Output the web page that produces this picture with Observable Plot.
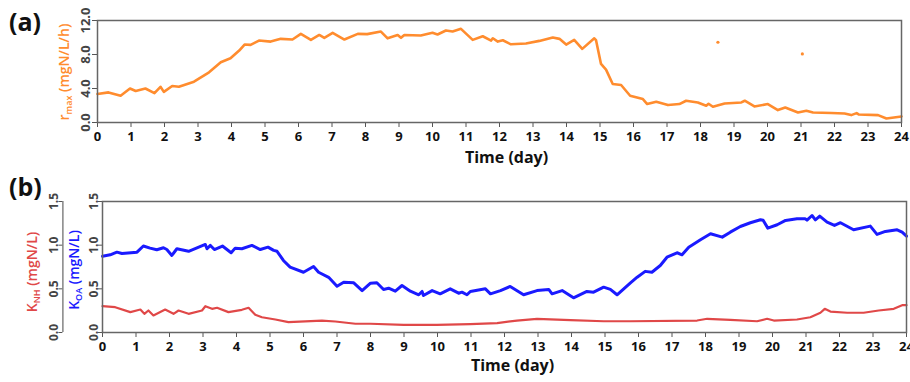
<!DOCTYPE html>
<html><head><meta charset="utf-8">
<script src="https://cdn.jsdelivr.net/npm/d3@7"></script>
<script src="https://cdn.jsdelivr.net/npm/@observablehq/plot@0.6"></script>
<style>
html,body{margin:0;padding:0;background:#fff;}
#wrap{position:relative;width:910px;height:382px;font-family:"Open Sans",sans-serif;overflow:hidden;background:#fff;}
.panel{position:absolute;left:0;z-index:1;}
.plabel{position:absolute;font-weight:700;font-size:25px;color:#111;line-height:1;z-index:3;}
.ytitle{position:absolute;transform:translate(-50%,-50%) rotate(-90deg);white-space:nowrap;font-size:14px;font-weight:600;line-height:1;z-index:3;}
.ytitle sub{font-size:9px;vertical-align:-3px;}
</style></head><body>
<div id="wrap">
  <div id="pa" class="panel" style="top:0px;"></div>
  <div id="pb" class="panel" style="top:170px;"></div>
  <div class="plabel" style="left:9px;top:9px;">(a)</div>
  <div class="plabel" style="left:9px;top:174px;">(b)</div>
  <div class="ytitle" style="left:65px;top:72px;color:#ff8c2e;">r<sub>max</sub> (mgN/L/h)</div>
  <div class="ytitle" style="left:33px;top:272px;color:#e04848;">K<sub>NH</sub> (mgN/L)</div>
  <div class="ytitle" style="left:75px;top:270px;color:#1a1aff;">K<sub>OA</sub> (mgN/L)</div>
</div>
<script>
// ---- data ----
const xTicks = d3.range(0, 25);
const yTicksA = [0, 4, 8, 12];
const yTicksB = [0, 0.5, 1.0, 1.5];
const xLabel = "Time (day)";

const rmaxT = [0,0.33,0.69,0.97,1.14,1.43,1.70,1.88,1.98,2.23,2.43,2.88,3.33,3.68,3.97,4.23,4.39,4.57,4.82,5.17,5.47,5.82,6.07,6.37,6.62,6.77,7.02,7.37,7.77,8.05,8.46,8.66,8.96,9.06,9.16,9.65,10.0,10.15,10.4,10.6,10.85,11.2,11.5,11.75,11.8,11.95,12.1,12.34,12.79,13.19,13.59,13.79,13.99,14.23,14.47,14.83,14.88,15.03,15.18,15.38,15.63,15.9,16.28,16.41,16.68,17.03,17.37,17.57,17.92,18.17,18.24,18.37,18.72,19.22,19.32,19.61,20.01,20.31,20.53,20.91,21.16,21.36,21.91,22.3,22.5,22.66,22.72,23.3,23.55,24];
const rmaxV = [3.35,3.54,3.15,4.0,3.7,4.0,3.45,4.2,3.6,4.3,4.2,4.8,5.9,7.08,7.55,8.46,9.17,9.13,9.64,9.52,9.84,9.76,10.43,9.72,10.3,9.96,10.55,9.76,10.43,10.4,10.7,9.9,10.3,9.96,10.3,10.23,10.55,10.35,10.82,10.7,11.02,9.72,10.15,9.64,9.91,9.52,9.68,9.2,9.29,9.6,10.0,9.84,9.17,9.72,8.66,9.91,9.7,6.89,6.22,4.53,4.41,3.15,2.76,2.17,2.44,2.05,2.17,2.56,2.36,1.97,2.2,1.85,2.24,2.36,2.56,1.89,2.17,1.46,1.77,1.18,1.38,1.18,1.11,1.06,0.87,1.1,0.95,0.87,0.47,0.71];
const outT = [18.52, 21.04];
const outV = [9.44, 8.07];

const koaT = [0,0.23,0.43,0.58,1.03,1.22,1.42,1.62,1.82,1.92,2.07,2.22,2.57,2.82,3.07,3.12,3.22,3.34,3.58,3.84,3.96,4.16,4.46,4.71,4.94,5.11,5.21,5.40,5.6,6.0,6.3,6.45,6.75,7.0,7.2,7.5,7.75,8.0,8.19,8.39,8.54,8.74,8.94,9.19,9.44,9.54,9.58,9.84,10.08,10.38,10.63,10.73,10.88,10.98,11.43,11.58,11.88,12.17,12.57,12.97,13.32,13.42,13.72,14.06,14.46,14.66,14.96,15.16,15.36,15.56,15.76,15.96,16.2,16.4,16.65,16.85,17.15,17.3,17.5,17.85,18.15,18.5,18.74,19.04,19.34,19.64,19.72,19.86,20.14,20.39,20.73,20.98,21.03,21.18,21.28,21.41,21.63,21.85,22.03,22.42,22.92,23.12,23.37,23.72,23.87,24];
const koaV = [0.874,0.89,0.92,0.905,0.92,0.99,0.966,0.947,0.97,0.95,0.882,0.959,0.93,0.97,1.008,0.959,0.997,0.95,0.99,0.913,0.966,0.959,0.997,0.95,0.977,0.94,0.93,0.825,0.748,0.69,0.756,0.69,0.632,0.53,0.576,0.569,0.48,0.565,0.569,0.493,0.507,0.473,0.538,0.473,0.432,0.47,0.424,0.48,0.443,0.5,0.45,0.462,0.432,0.47,0.5,0.443,0.48,0.527,0.432,0.48,0.493,0.443,0.48,0.397,0.47,0.462,0.519,0.493,0.432,0.5,0.569,0.633,0.7,0.69,0.767,0.862,0.913,0.89,0.977,1.062,1.13,1.092,1.149,1.214,1.257,1.291,1.285,1.195,1.234,1.283,1.302,1.302,1.286,1.34,1.29,1.332,1.263,1.226,1.257,1.176,1.218,1.123,1.157,1.176,1.149,1.103];

const knhT = [0,0.38,0.83,1.13,1.25,1.37,1.52,1.87,2.12,2.27,2.57,2.97,3.07,3.27,3.42,3.76,4.16,4.36,4.56,4.76,5.16,5.55,6.55,6.95,7.55,8.0,8.99,9.98,10.98,11.78,12.37,12.97,13.97,14.96,15.76,17.75,18.05,18.74,19.54,19.84,20.04,20.73,21.13,21.43,21.56,21.73,22.23,22.72,23.17,23.62,23.87,24];
const knhV = [0.301,0.29,0.233,0.263,0.214,0.252,0.195,0.263,0.214,0.252,0.214,0.252,0.301,0.271,0.283,0.233,0.26,0.283,0.203,0.175,0.149,0.118,0.137,0.126,0.1,0.1,0.088,0.088,0.095,0.107,0.137,0.157,0.141,0.129,0.129,0.137,0.157,0.145,0.129,0.157,0.137,0.149,0.175,0.226,0.271,0.24,0.226,0.226,0.252,0.271,0.313,0.313];

const rmax = rmaxT.map((t, i) => ({t, v: rmaxV[i]}));
const outl = outT.map((t, i) => ({t, v: outV[i]}));
const koa = koaT.map((t, i) => ({t, v: koaV[i]}));
const knh = knhT.map((t, i) => ({t, v: knhV[i]}));

const FONT = "'Open Sans', sans-serif";
const fmt1 = d3.format(".1f");

const plotA = Plot.plot({
  width: 910, height: 170,
  marginLeft: 97, marginRight: 9, marginTop: 20, marginBottom: 48,
  style: {fontFamily: FONT, background: "transparent", overflow: "visible"},
  x: {domain: [0, 24]},
  y: {domain: [0, 12]},
  marks: [
    Plot.axisX(xTicks, {tickSize: 5, tickPadding: 4, fontSize: 13, fontWeight: "bold", fill: "#111", stroke: "#555", label: null}),
    Plot.axisY(yTicksA, {tickSize: 5, tickPadding: 3, tickRotate: -90, tickFormat: fmt1, fontSize: 13, fontWeight: "bold", fill: "#444", stroke: "#555", label: null}),
    Plot.line(rmax, {x: "t", y: "v", stroke: "#ff8c2e", strokeWidth: 2.6}),
    Plot.dot(outl, {x: "t", y: "v", r: 1.6, fill: "#ff8c2e", stroke: null}),
    Plot.frame({stroke: "#666", strokeWidth: 1.5}),
    Plot.text([xLabel], {frameAnchor: "bottom", dy: 40, dx: 7, fontSize: 16, fontWeight: "bold", fill: "#111"})
  ]
});
document.getElementById("pa").appendChild(plotA);

const plotB = Plot.plot({
  width: 910, height: 212,
  marginLeft: 102, marginRight: 4, marginTop: 31, marginBottom: 50,
  style: {fontFamily: FONT, background: "transparent", overflow: "visible"},
  x: {domain: [0, 24]},
  y: {domain: [0, 1.5]},
  marks: [
    Plot.axisX(xTicks, {tickSize: 5, tickPadding: 4, fontSize: 13, fontWeight: "bold", fill: "#111", stroke: "#555", label: null}),
    Plot.axisY(yTicksB, {tickSize: 4, tickPadding: 1, tickRotate: -90, tickFormat: fmt1, fontSize: 12, fontWeight: "bold", fill: "#444", stroke: "#555", label: null}),
    Plot.axisY(yTicksB, {dx: -39.6, tickSize: 4, tickPadding: 1, tickRotate: -90, tickFormat: fmt1, fontSize: 12, fontWeight: "bold", fill: "#444", stroke: "#555", label: null}),
    Plot.ruleX([0], {dx: -39.6, stroke: "#666", strokeWidth: 1.2}),
    Plot.line(knh, {x: "t", y: "v", stroke: "#e04848", strokeWidth: 2.2}),
    Plot.line(koa, {x: "t", y: "v", stroke: "#1a1aff", strokeWidth: 3}),
    Plot.frame({stroke: "#666", strokeWidth: 1.5}),
    Plot.text([xLabel], {frameAnchor: "bottom", dy: 38, dx: 8, fontSize: 16, fontWeight: "bold", fill: "#111"})
  ]
});
document.getElementById("pb").appendChild(plotB);
</script>
</body></html>
